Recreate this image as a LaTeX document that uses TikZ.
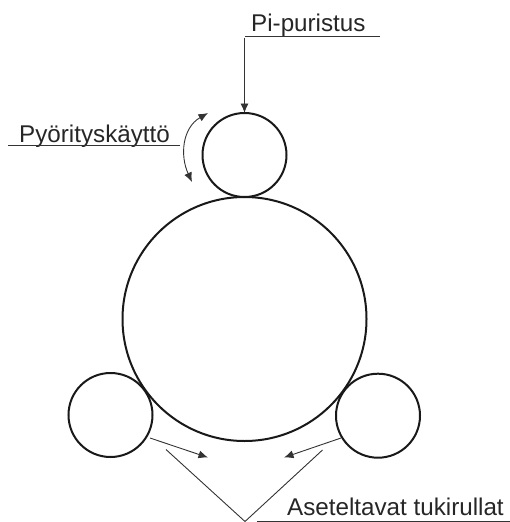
\documentclass[tikz,border=0pt]{standalone}
\usepackage{fontspec}
\setmainfont{Liberation Sans}
\usetikzlibrary{arrows.meta}
\begin{document}
\begin{tikzpicture}[x=1pt,y=-1pt,
  roller/.style={circle,draw=black!90,line width=2pt,inner sep=0pt,outer sep=0pt},
  thin line/.style={draw=black!80,line width=0.9pt},
  pointer/.style={thin line,-{Latex[length=9.5pt,width=8pt]}},
  label text/.style={inner sep=0pt,anchor=base west,font=\fontsize{24.2pt}{28pt}\selectfont,text=black!85}]
\useasboundingbox (0,0) rectangle (510,522);
\node[roller,minimum size=84pt] (top) at (244.5,155) {};
\node[roller,minimum size=244pt] (big) at (244.5,319) {};
\node[roller,minimum size=84pt] (left) at (110.5,415) {};
\node[roller,minimum size=84pt] (right) at (378,415.7) {};
\node[label text] (pi) at (251,31) {Pi-puristus};
\node[label text] (py) at (19,142) {Pyörityskäyttö};
\node[label text] (as) at (287,515) {Aseteltavat tukirullat};
\coordinate (piA) at (245,36.5); \coordinate (piB) at (380,36.5);
\coordinate (pyA) at (8,145); \coordinate (pyB) at (180,145);
\coordinate (asA) at (257,521); \coordinate (asB) at (510,521);
\draw[thin line] (piA) -- (piB);
\draw[thin line] (pyA) -- (pyB);
\draw[thin line] (asA) -- (asB);
\coordinate (piS) at (244.5,38);
\draw[pointer] (piS) -- (top.north);
\coordinate (rotA) at (192,182); \coordinate (rotB) at (208,113);
\draw[thin line,{Latex[length=9.5pt,width=8pt]}-{Latex[length=9.5pt,width=8pt]}] (rotA) .. controls (180,156) and (182,128) .. (rotB);
\coordinate (lS) at (150,438); \coordinate (lE) at (208,457.5);
\coordinate (rS) at (341,438); \coordinate (rE) at (284,457.5);
\draw[pointer] (lS) -- (lE);
\draw[pointer] (rS) -- (rE);
\coordinate (vL) at (166,449.5); \coordinate (vM) at (245,521.5); \coordinate (vR) at (322.5,450);
\draw[thin line] (vL) -- (vM) -- (vR);
\end{tikzpicture}
\end{document}
